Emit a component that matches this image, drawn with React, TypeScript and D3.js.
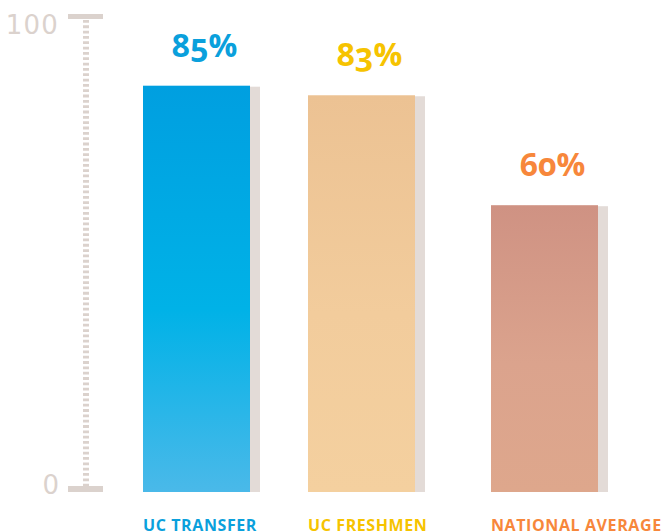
import React from "react";
import * as d3 from "d3";

const categories = ["UC TRANSFER", "UC FRESHMEN", "NATIONAL AVERAGE"];
const values = [85, 83, 60];
const labelColors = ["#0aa0dc", "#f6c300", "#f7873b"];
const gradients = [
  ["#009fe0", "#00b2e7", "#4ab9e9"],
  ["#ecc293", "#f2cc9c", "#f4d09f"],
  ["#cf9283", "#dba38d", "#dea78c"],
];
const barLefts = [143, 308, 491];
const yTicks = [0, 100];

const W = 668;
const H = 532;

export default function App() {
  const y = d3.scaleLinear().domain([0, 100]).range([492, 14]);
  const barW = 107;
  const shadowW = 10;
  const axisGray = "#dbd2cd";
  return (
    <svg
      width={W}
      height={H}
      style={{ position: "absolute", left: 0, top: 0, background: "#fff" }}
    >
      <defs>
        {gradients.map((g, i) => (
          <linearGradient key={i} id={`g${i}`} x1="0" y1="0" x2="0" y2="1">
            <stop offset="0%" stopColor={g[0]} />
            <stop offset="55%" stopColor={g[1]} />
            <stop offset="100%" stopColor={g[2]} />
          </linearGradient>
        ))}
      </defs>
      {/* axis */}
      <rect x={68} y={y(100)} width={35} height={5} fill={axisGray} />
      <rect x={68} y={y(0) - 6} width={35} height={6} fill={axisGray} />
      <line
        x1={86}
        x2={86}
        y1={y(100) + 6}
        y2={y(0) - 6}
        stroke={axisGray}
        strokeWidth={6}
        strokeDasharray="2.8 2.53"
      />
      {yTicks.map((t) => (
        <text
          key={t}
          x={59}
          y={t === 100 ? 34 : 494}
          textAnchor="end"
          fontFamily="'DejaVu Sans', sans-serif"
          fontSize={26}
          letterSpacing={t === 100 ? 1.2 : 0}
          fill={axisGray}
        >
          {t}
        </text>
      ))}
      {values.map((v, i) => {
        const x0 = barLefts[i];
        const top = y(v);
        return (
          <g key={i}>
            <rect
              x={x0 + barW}
              y={top + 1}
              width={shadowW}
              height={y(0) - top - 1}
              fill="#e3dbd7"
            />
            <rect
              x={x0}
              y={top}
              width={barW}
              height={y(0) - top}
              fill={`url(#g${i})`}
            />
            <text
              x={x0 + (barW + shadowW) / 2 + 3}
              y={top - 29}
              textAnchor="middle"
              fontFamily="'Open Sans', sans-serif"
              fontWeight={700}
              fontSize={32}
              fill={labelColors[i]}
              style={{ fontFeatureSettings: "'onum' 1", fontVariantNumeric: "oldstyle-nums" }}
            >
              {v}%
            </text>
            <text
              x={x0}
              y={531}
              fontFamily="'Open Sans', sans-serif"
              fontWeight={700}
              fontSize={16}
              letterSpacing={0.6}
              fill={labelColors[i]}
            >
              {categories[i]}
            </text>
          </g>
        );
      })}
    </svg>
  );
}
